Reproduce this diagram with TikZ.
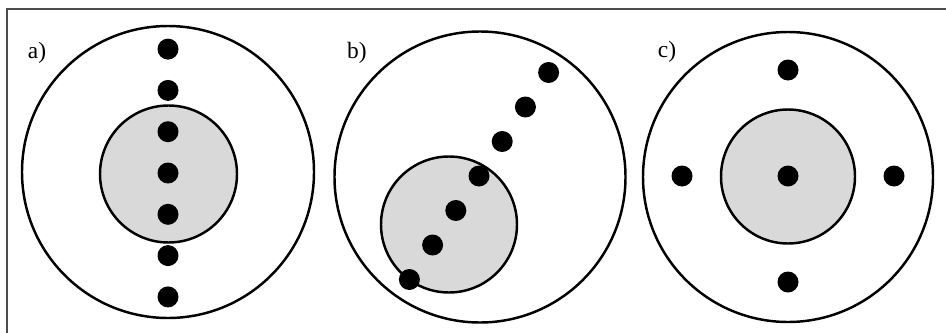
\documentclass[tikz,border=0pt]{standalone}
\usepackage{fontspec}
\setmainfont{Liberation Serif}
\usepackage{tikz}
\usetikzlibrary{positioning,calc}
\tikzset{
  ring_out/.style={draw=black, line width=2.1pt},
  ring_core/.style={draw=black, line width=2.1pt, fill=black!15},
  dot_pt/.style={fill=black},
  panel_lbl/.style={font=\fontsize{20}{24}\selectfont, inner sep=0pt},
  frame_ln/.style={draw=black!70, line width=1.9pt},
}

\begin{document}
\begin{tikzpicture}[x=0.03cm, y=-0.03cm]
\useasboundingbox (0,0) rectangle (946,332);

% Frame (top and left edges only)
\draw[frame_ln] (7,340) -- (7,9) -- (950,9);

% Panel a: dots on a vertical line
\draw[ring_out]  (168,172) circle (146);
\draw[ring_core] (168.5,174) circle (68.5);
\foreach \k in {-3,...,3}
  \fill[dot_pt] (168,{173+41.3*\k}) circle (10.5);
\node[panel_lbl] (lbla) at (37,53) {a)};

% Panel b: dots on a diagonal line
\draw[ring_out]  (480,177) circle (145.5);
\draw[ring_core] (449,224.5) circle (68);
\foreach \k in {-3,...,3}
  \fill[dot_pt] ({479-23.2*\k},{176+34.5*\k}) circle (10.5);
\node[panel_lbl] (lblb) at (357,53) {b)};

% Panel c: centre dot and four around
\draw[ring_out]  (788,177) circle (145);
\draw[ring_core] (788,176.5) circle (67);
\fill[dot_pt] (788,176) circle (10.5);
\foreach \a in {0,90,180,270}
  \fill[dot_pt] ($(788,176)+(\a:106)$) circle (10.5);
\node[panel_lbl] (lblc) at (667,52) {c)};

\end{tikzpicture}
\end{document}
